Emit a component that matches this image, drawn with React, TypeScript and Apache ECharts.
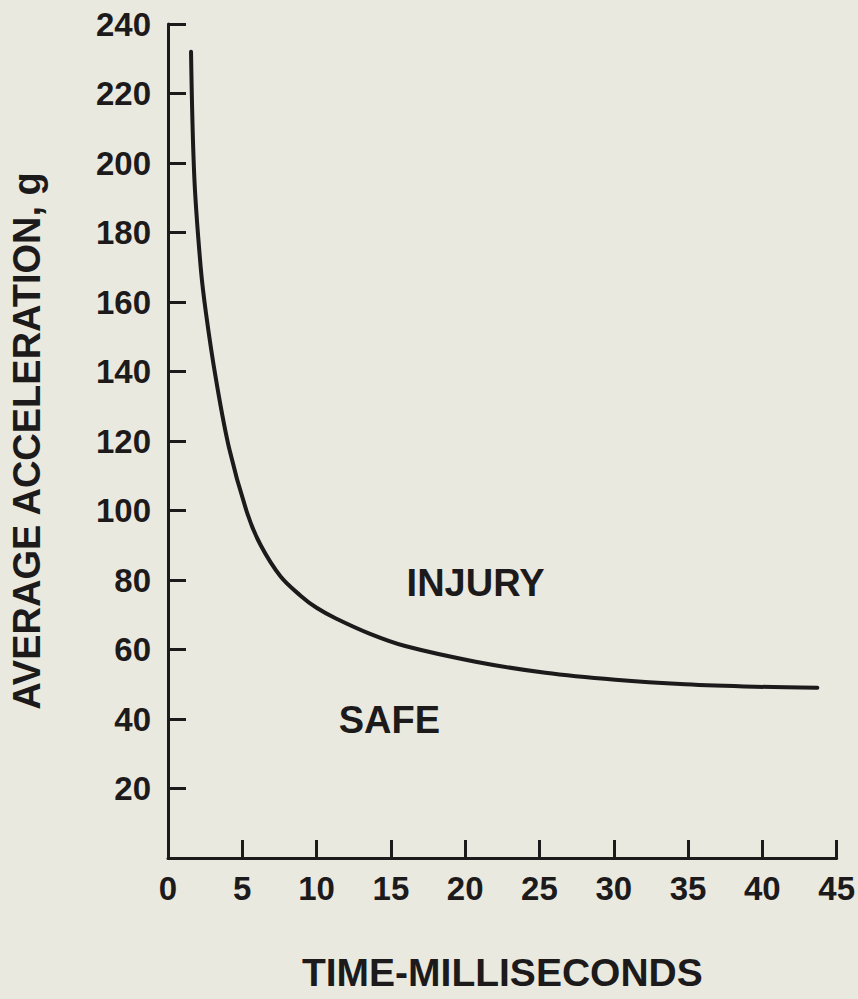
import React, { useEffect, useRef } from "react";
import * as echarts from "echarts";

// Curve (time in ms, average acceleration in g)
const timeMs = [1.55, 1.77, 2.2, 2.55, 3.22, 4.11, 5.35, 6.24, 7.58, 8.92, 10.0, 11.27, 13.6, 15.96, 20.7, 25.4, 30.1, 34.8, 39.5, 43.7];
const accelG = [232, 196, 170, 157, 138, 118, 99, 90, 81, 75.5, 72, 69, 64.5, 61, 56.5, 53.3, 51.3, 50, 49.3, 49];

// Axis ranges / ticks
const xRange = { min: 0, max: 45, interval: 5 };
const yRange = { min: 0, max: 240, interval: 20 };

// Region labels (placed in data coordinates)
const regionNames = ["INJURY", "SAFE"];
const regionTime = [20.7, 14.9];
const regionAccel = [79, 39.7];

const xTitle = "TIME-MILLISECONDS";
const yTitle = "AVERAGE ACCELERATION, g";

const INK = "#1c1a1a";
const BG = "#eae9df";
const FONT = "'Liberation Sans', Arial, Helvetica, sans-serif";

export default function App() {
  const ref = useRef<HTMLDivElement>(null);
  useEffect(() => {
    if (!ref.current) return;
    const chart = echarts.init(ref.current, undefined, { renderer: "svg" });
    const axisCommon = {
      axisLine: { show: true, lineStyle: { color: INK, width: 3 } },
      axisTick: { show: true, inside: true, length: 18, lineStyle: { color: INK, width: 3 } },
      splitLine: { show: false },
    };
    chart.setOption({
      animation: false,
      backgroundColor: BG,
      grid: { left: 167, right: 20, top: 24, bottom: 141, containLabel: false },
      xAxis: {
        type: "value",
        ...axisCommon,
        min: xRange.min,
        max: xRange.max,
        interval: xRange.interval,
        axisLabel: { color: INK, fontSize: 33, fontWeight: "bold", fontFamily: FONT, margin: 14 },
        name: xTitle,
        nameLocation: "middle",
        nameGap: 95,
        nameTextStyle: { color: INK, fontSize: 39, fontWeight: "bold", fontFamily: FONT },
      },
      yAxis: {
        type: "value",
        ...axisCommon,
        min: yRange.min,
        max: yRange.max,
        interval: yRange.interval,
        axisLabel: {
          color: INK,
          fontSize: 33,
          fontWeight: "bold",
          fontFamily: FONT,
          margin: 17,
          formatter: (v: number) => (v === 0 ? "" : String(v)),
        },
        name: yTitle,
        nameLocation: "middle",
        nameGap: 122,
        nameTextStyle: { color: INK, fontSize: 38, fontWeight: "bold", fontFamily: FONT },
      },
      series: [
        {
          type: "line",
          data: timeMs.map((t, i) => [t, accelG[i]]),
          smooth: 0.35,
          showSymbol: false,
          lineStyle: { color: INK, width: 4, cap: "round" },
        },
        {
          type: "scatter",
          data: regionNames.map((n, i) => ({ name: n, value: [regionTime[i], regionAccel[i]] })),
          symbolSize: 0,
          itemStyle: { opacity: 1, color: "transparent" },
          label: {
            show: true,
            position: "inside",
            formatter: (p: any) => p.name,
            color: INK,
            opacity: 1,
            textBorderWidth: 0,
            fontSize: 38,
            fontWeight: "bold",
            fontFamily: FONT,
          },
        },
      ],
    });
    return () => chart.dispose();
  }, []);
  return (
    <div
      ref={ref}
      style={{ position: "fixed", left: 0, top: 0, width: 858, height: 999, background: BG }}
    />
  );
}
